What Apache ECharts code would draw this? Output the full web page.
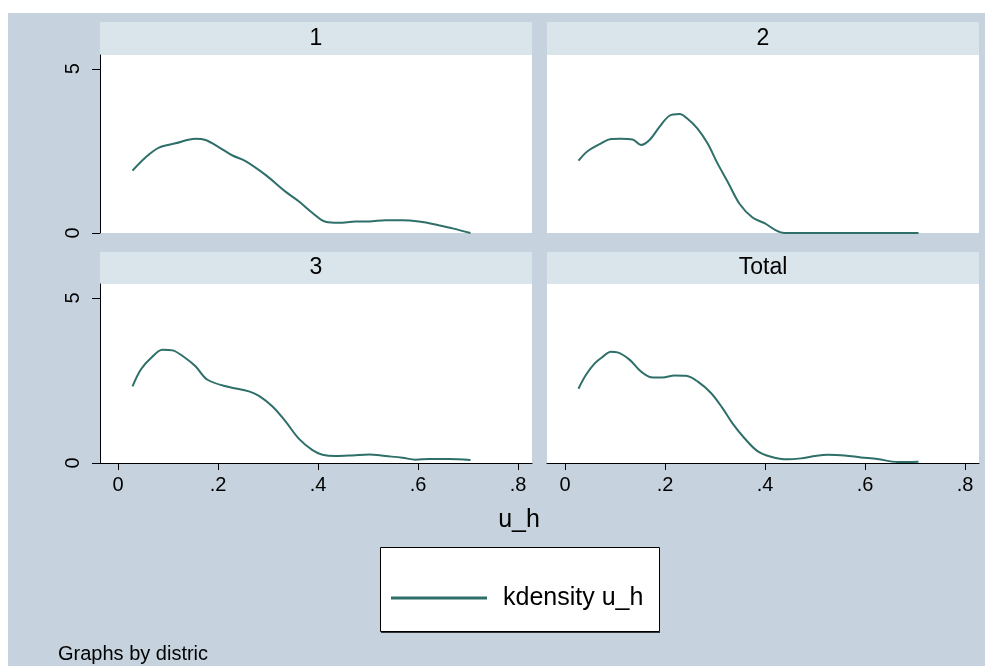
<!DOCTYPE html>
<html>
<head>
<meta charset="utf-8">
<script src="https://cdn.jsdelivr.net/npm/echarts@6/dist/echarts.min.js"></script>
<style>html,body{margin:0;padding:0;background:#fff}#c{width:985px;height:666px}</style>
</head>
<body>
<div id="c"></div>
<script>
// ---- data ----
const panelTitles = ['1', '2', '3', 'Total'];
const xTicks = [0, 0.2, 0.4, 0.6, 0.8];
const yTicks = [0, 5];
const seriesName = 'kdensity u_h';
const xTitle = 'u_h';
const note = 'Graphs by distric';

const x1 = [0.029,0.055,0.082,0.115,0.155,0.175,0.202,0.229,0.255,0.295,0.335,0.362,0.389,0.415,0.442,0.475,0.502,0.535,0.569,0.602,0.635,0.669,0.705];
const y1 = [1.90,2.30,2.60,2.73,2.87,2.83,2.61,2.36,2.19,1.77,1.26,0.96,0.61,0.34,0.31,0.35,0.35,0.39,0.39,0.35,0.26,0.14,0.00];

const x2 = [0.027,0.045,0.072,0.092,0.112,0.135,0.152,0.169,0.189,0.209,0.229,0.245,0.265,0.285,0.305,0.325,0.349,0.375,0.399,0.422,0.439,0.500,0.600,0.707];
const y2 = [2.20,2.49,2.73,2.86,2.87,2.85,2.68,2.83,3.23,3.57,3.62,3.48,3.18,2.73,2.12,1.57,0.89,0.47,0.30,0.08,0.00,0.00,0.00,0.00];

const x3 = [0.029,0.046,0.066,0.089,0.109,0.132,0.155,0.179,0.222,0.262,0.282,0.309,0.335,0.362,0.389,0.409,0.435,0.469,0.502,0.535,0.569,0.595,0.622,0.662,0.705];
const y3 = [2.32,2.84,3.18,3.43,3.41,3.21,2.93,2.52,2.30,2.17,2.03,1.71,1.26,0.73,0.39,0.25,0.21,0.23,0.26,0.21,0.16,0.10,0.12,0.12,0.09];

const x4 = [0.027,0.042,0.059,0.075,0.092,0.105,0.129,0.152,0.172,0.195,0.219,0.242,0.265,0.292,0.315,0.335,0.359,0.385,0.412,0.445,0.472,0.499,0.525,0.559,0.592,0.625,0.665,0.685,0.707];
const y4 = [2.25,2.67,3.01,3.21,3.37,3.35,3.13,2.77,2.60,2.59,2.65,2.64,2.47,2.12,1.66,1.20,0.75,0.36,0.19,0.11,0.14,0.21,0.25,0.23,0.17,0.12,0.03,0.03,0.04];

const panelsX = [x1, x2, x3, x4];
const panelsY = [y1, y2, y3, y4];

// ---- layout / style ----
const FONT = "'Liberation Sans', Arial, Helvetica, sans-serif";
const LINE = '#2e6f69';
const OUTER = '#c6d3de';
const STRIP = '#d9e5eb';
const grids = [
  {left: 100, top: 55, width: 432, height: 178},
  {left: 547, top: 55, width: 432, height: 178},
  {left: 100, top: 284, width: 432, height: 179},
  {left: 547, top: 284, width: 432, height: 179}
];
const strips = [
  {x: 100, y: 22, w: 432, h: 33},
  {x: 547, y: 22, w: 432, h: 33},
  {x: 100, y: 252, w: 432, h: 32},
  {x: 547, y: 252, w: 432, h: 32}
];

const fmtX = v => (v === 0 ? '0' : String(+v.toFixed(1)).replace(/^0/, ''));

const option = {
  backgroundColor: '#ffffff',
  animation: false,
  grid: grids.map(g => Object.assign({show: true, backgroundColor: '#ffffff', borderWidth: 0}, g)),
  xAxis: grids.map((g, i) => ({
    gridIndex: i, type: 'value', min: -0.036, max: 0.828,
    axisLine: {show: i >= 2, onZero: false, lineStyle: {color: '#000', width: 1}},
    axisTick: {show: i >= 2, length: 7, customValues: xTicks, lineStyle: {color: '#000'}},
    axisLabel: {show: i >= 2, customValues: xTicks, formatter: fmtX, margin: 12,
      color: '#000', fontSize: 20, fontFamily: FONT},
    splitLine: {show: false}
  })),
  yAxis: grids.map((g, i) => ({
    gridIndex: i, type: 'value', min: 0, max: 5.42, interval: 5,
    axisLine: {show: i % 2 === 0, onZero: false, lineStyle: {color: '#000', width: 1}},
    axisTick: {show: i % 2 === 0, length: 8, customValues: yTicks, lineStyle: {color: '#000'}},
    axisLabel: {show: i % 2 === 0, customValues: yTicks, rotate: 90, margin: 17,
      color: '#000', fontSize: 20, fontFamily: FONT},
    splitLine: {show: true, showMaxLine: false, showMinLine: false, lineStyle: {color: '#e3ecf0', width: 1.5}}
  })),
  legend: {
    data: [seriesName], left: 391, top: 583, padding: 0,
    icon: 'rect', itemWidth: 96, itemHeight: 3,
    textStyle: {fontSize: 25, fontFamily: FONT, color: '#000', lineHeight: 30, padding: [0, 0, 0, 11]},
    selectedMode: false
  },
  title: [
    ...panelTitles.map((t, i) => ({
      text: t, left: strips[i].x + strips[i].w / 2, top: strips[i].y + strips[i].h / 2 - 13,
      textAlign: 'center', padding: 0,
      textStyle: {fontSize: 23, fontWeight: 'normal', color: '#000', fontFamily: FONT, lineHeight: 26}
    })),
    {text: xTitle, left: 519, top: 505, textAlign: 'center', padding: 0,
      textStyle: {fontSize: 25, fontWeight: 'normal', color: '#000', fontFamily: FONT, lineHeight: 30}},
    {text: note, left: 58, top: 643, padding: 0,
      textStyle: {fontSize: 20, fontWeight: 'normal', color: '#000', fontFamily: FONT, lineHeight: 22}}
  ],
  graphic: [
    {type: 'rect', z: -10, silent: true, shape: {x: 8, y: 13, width: 977, height: 653}, style: {fill: OUTER}},
    ...strips.map(s => ({type: 'rect', z: -5, silent: true, shape: {x: s.x, y: s.y, width: s.w, height: s.h}, style: {fill: STRIP}})),
    {type: 'rect', z: -5, silent: true, shape: {x: 380.5, y: 547.5, width: 279, height: 84}, style: {fill: '#fff', stroke: '#000', lineWidth: 1}},
    {type: 'line', z: -5, silent: true, shape: {x1: 381, y1: 632.5, x2: 660, y2: 632.5}, style: {stroke: '#333', lineWidth: 1}}
  ],
  series: panelsX.map((xs, i) => ({
    name: seriesName, type: 'line', xAxisIndex: i, yAxisIndex: i,
    data: xs.map((x, k) => [x, panelsY[i][k]]),
    showSymbol: false, smooth: 0.35,
    lineStyle: {color: LINE, width: 2}, itemStyle: {color: LINE}
  }))
};

const chart = echarts.init(document.getElementById('c'), null, {renderer: 'canvas'});
chart.setOption(option);
</script>
</body>
</html>
